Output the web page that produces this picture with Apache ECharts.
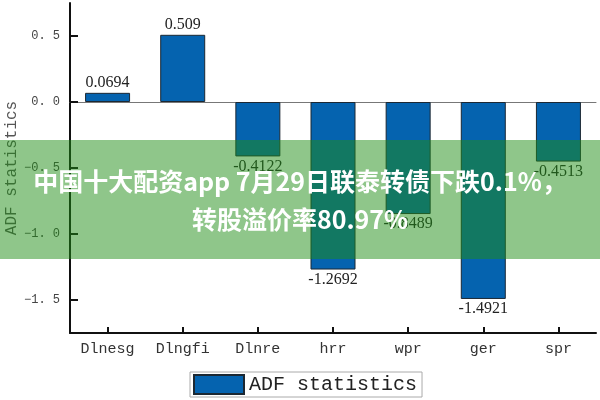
<!DOCTYPE html>
<html><head><meta charset="utf-8">
<script src="https://cdn.jsdelivr.net/npm/echarts@6/dist/echarts.min.js"></script>
<style>html,body{margin:0;padding:0;background:#fff}#c{width:600px;height:400px}</style>
</head><body><div id="c"></div>
<script>
const categories = ['Dlnesg','Dlngfi','Dlnre','hrr','wpr','ger','spr'];
const adfValues = [0.0694, 0.509, -0.4122, -1.2692, -0.8489, -1.4921, -0.4513];
const yTicks = [-1.5, -1.0, -0.5, 0.0, 0.5];
const seriesName = 'ADF statistics';
const bannerLines = ['中国十大配资app 7月29日联泰转债下跌0.1%，', '转股溢价率80.97%'];

const chart = echarts.init(document.getElementById('c'), null, {renderer:'canvas'});
chart.setOption({
  animation:false,
  backgroundColor:'#fff',
  grid:{left:70, right:4, top:3, bottom:67, outerBoundsMode:'none', containLabel:false},
  legend:{
    data:[{name:seriesName, icon:'rect'}], left:190, top:372, itemWidth:50, itemHeight:19, itemGap:10,
    borderColor:'#aaa', borderWidth:1, padding:[2,5,2,3],
    textStyle:{fontFamily:'Liberation Mono', fontSize:20, color:'#222'}
  },
  xAxis:[{
    type:'category', data:categories, position:'bottom',
    axisLine:{show:true, onZero:false, lineStyle:{color:'#111', width:2}},
    axisTick:{show:true, inside:true, alignWithLabel:true, length:6, lineStyle:{color:'#111', width:2}},
    axisLabel:{fontFamily:'Liberation Mono', fontSize:15, color:'#333', margin:9}
  },{
    type:'category', data:categories,
    axisLine:{show:true, onZero:true, lineStyle:{color:'#777', width:1}},
    axisTick:{show:false}, axisLabel:{show:false}
  }],
  yAxis:{
    type:'value', min:-1.75, max:0.75,
    name:seriesName, nameLocation:'middle', nameGap:50, nameMoveOverlap:false,
    nameTextStyle:{fontFamily:'Liberation Mono', fontSize:16, color:'#555'},
    axisLine:{show:true, lineStyle:{color:'#111', width:2}},
    axisTick:{show:true, inside:true, length:8, lineStyle:{color:'#111', width:2}, customValues:yTicks},
    axisLabel:{customValues:yTicks, fontFamily:'Liberation Mono', fontSize:12, color:'#444', margin:10,
      formatter:v=>v.toFixed(1).replace('-', '−').replace('.', '. ')},
    splitLine:{show:false}
  },
  series:[{
    name:seriesName, type:'bar', xAxisIndex:1, barWidth:45,
    data:adfValues.map(v=>({value:v, label:{position: v<0?'bottom':'top'}})),
    itemStyle:{color:'#0563AF', borderColor:'#1c2833', borderWidth:1},
    label:{show:true, fontFamily:'Liberation Serif', fontSize:16, color:'#222', distance:2,
      formatter:p=>String(p.value)}
  }],
  graphic:[
    {type:'rect', left:0, top:140, shape:{width:600, height:119}, style:{fill:'rgba(32,141,21,0.5)'}, z:100},
    {type:'text', left:'center', top:169, style:{text:bannerLines[0], fill:'#fff', font:'bold 25px "Noto Sans CJK SC"'}, z:101},
    {type:'text', left:'center', top:207, style:{text:bannerLines[1], fill:'#fff', font:'bold 25px "Noto Sans CJK SC"'}, z:101}
  ]
});
</script></body></html>
